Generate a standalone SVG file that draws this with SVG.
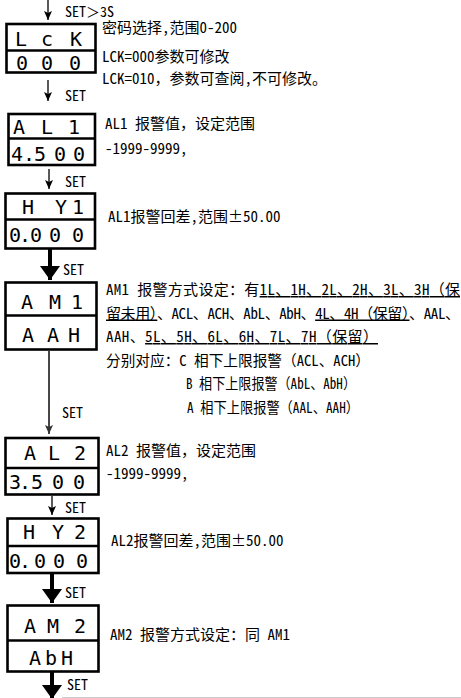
<svg xmlns="http://www.w3.org/2000/svg" width="461" height="698" viewBox="0 0 461 698">
<style>
.t{font-family:'Noto Sans Mono CJK SC','Noto Sans CJK SC',sans-serif;font-size:15px;fill:#000;}
.s{font-family:'Noto Sans Mono CJK SC','Noto Sans CJK SC',sans-serif;font-size:14px;fill:#000;}
.seg{font-family:'DejaVu Sans Mono',monospace;font-size:20px;fill:#000;text-anchor:middle;}
.box{fill:none;stroke:#000;stroke-width:2.6;}
.div{stroke:#000;stroke-width:2.6;}
.thin{stroke:#000;stroke-width:1.3;fill:none;}
.thick{stroke:#000;stroke-width:4;fill:none;}
.u{text-decoration:underline;}
</style>
<defs>
<marker id="ah" markerUnits="userSpaceOnUse" markerWidth="10" markerHeight="10" refX="9" refY="4" orient="auto" overflow="visible">
<path d="M0,0 L9,4 L0,8 L2,4 z" fill="#000"/>
</marker>
<marker id="ahg" markerUnits="userSpaceOnUse" markerWidth="10" markerHeight="10" refX="9" refY="4" orient="auto" overflow="visible">
<path d="M0,0 L9,4 L0,8 L2,4 z" fill="#333"/>
</marker>
<marker id="th" markerUnits="userSpaceOnUse" markerWidth="16" markerHeight="22" refX="14" refY="10" orient="auto" overflow="visible">
<path d="M0,0 L14,10 L0,20 z" fill="#000"/>
</marker>
</defs>
<rect width="461" height="698" fill="#fff"/>

<g id="connectors">
<line class="thin" x1="48" y1="0" x2="48" y2="20" marker-end="url(#ah)"/>
<text class="s" x="65" y="17">SET＞3S</text>
<line class="thin" x1="48" y1="80" x2="48" y2="101" marker-end="url(#ah)"/>
<text class="s" x="65" y="101">SET</text>
<line class="thin" x1="49" y1="169" x2="49" y2="189" marker-end="url(#ah)"/>
<text class="s" x="65" y="187">SET</text>
<line class="thick" x1="50" y1="249" x2="50" y2="280" marker-end="url(#th)"/>
<text class="s" x="63" y="275">SET</text>
<line x1="49" y1="351" x2="49" y2="434" stroke="#333" stroke-width="1.8" marker-end="url(#ahg)"/>
<text class="s" x="62" y="418">SET</text>
<line class="thin" x1="52" y1="496" x2="52" y2="515" marker-end="url(#ah)"/>
<text class="s" x="65" y="513">SET</text>
<line class="thick" x1="52" y1="574" x2="52" y2="603" marker-end="url(#th)"/>
<text class="s" x="65" y="598">SET</text>
<line class="thick" x1="52" y1="672" x2="52" y2="699" marker-end="url(#th)"/>
<text class="s" x="67" y="690">SET</text>
<line x1="62" y1="697.5" x2="461" y2="697.5" stroke="#cccccc" stroke-width="1"/>
</g>

<g id="node-lck">
<rect class="box" x="6.5" y="24" width="89" height="48.5"/>
<line class="div" x1="6.5" y1="50.5" x2="95.5" y2="50.5"/>
<text class="seg" x="21 47 76" y="46">LcK</text>
<text class="seg" x="22 47 75" y="70">000</text>
<text class="t" x="102" y="33">密码选择,范围0-200</text>
<text class="t" x="102" y="61.5">LCK=000参数可修改</text>
<text class="t" x="102" y="83.5">LCK=010，参数可查阅,不可修改。</text>
</g>

<g id="node-al1">
<rect class="box" x="8.5" y="114" width="86.5" height="51"/>
<line class="div" x1="8.5" y1="138.5" x2="95" y2="138.5"/>
<text class="seg" x="19 47 74" y="134">AL1</text>
<text class="seg" x="17 29 40 60 79" y="161">4.500</text>
<text class="t" x="105" y="129">AL1 报警值，设定范围</text>
<text class="t" x="105" y="154">-1999-9999,</text>
</g>

<g id="node-hy1">
<rect class="box" x="5.5" y="193.5" width="89.5" height="55"/>
<line class="div" x1="5.5" y1="219.5" x2="95" y2="219.5"/>
<text class="seg" x="28 61 78" y="214">HY1</text>
<text class="seg" x="15 25 36 55 78" y="242">0.000</text>
<text class="t" x="108" y="222">AL1报警回差,范围±50.00</text>
</g>

<g id="node-am1">
<rect class="box" x="5.5" y="282.5" width="91" height="67"/>
<line class="div" x1="5.5" y1="315.5" x2="96.5" y2="315.5"/>
<text class="seg" x="27 55 77" y="309">AM1</text>
<text class="seg" x="28 53 74" y="342">AAH</text>
<text class="t" x="106" y="295" textLength="354" lengthAdjust="spacing">AM1 报警方式设定：有<tspan class="u">1L、1H、2L、2H、3L、3H（保</tspan></text>
<text class="t" x="106" y="318.5" textLength="354" lengthAdjust="spacing"><tspan class="u">留未用）</tspan>、ACL、ACH、AbL、AbH、<tspan class="u">4L、4H（保留）</tspan>、AAL、</text>
<text class="t" x="106" y="342" textLength="272" lengthAdjust="spacing">AAH、<tspan class="u">5L、5H、6L、6H、7L、7H（保留）</tspan></text>
<text class="t" x="106" y="365.5" textLength="264" lengthAdjust="spacingAndGlyphs">分别对应：C 相下上限报警（ACL、ACH）</text>
<text class="t" x="186" y="389" textLength="170" lengthAdjust="spacingAndGlyphs">B 相下上限报警（AbL、AbH）</text>
<text class="t" x="187" y="412.5" textLength="172" lengthAdjust="spacingAndGlyphs">A 相下上限报警（AAL、AAH）</text>
</g>

<g id="node-al2">
<rect class="box" x="5.5" y="438" width="93" height="56.5"/>
<line class="div" x1="5.5" y1="468" x2="98.5" y2="468"/>
<text class="seg" x="30 54 80" y="460">AL2</text>
<text class="seg" x="15 25 37 58 79" y="489">3.500</text>
<text class="t" x="106" y="456">AL2 报警值，设定范围</text>
<text class="t" x="106" y="479">-1999-9999,</text>
</g>

<g id="node-hy2">
<rect class="box" x="7.5" y="518.5" width="91" height="54.5"/>
<line class="div" x1="7.5" y1="546" x2="98.5" y2="546"/>
<text class="seg" x="29 58 80" y="539">HY2</text>
<text class="seg" x="15 25 40 59 82" y="568">0.000</text>
<text class="t" x="111" y="546">AL2报警回差,范围±50.00</text>
</g>

<g id="node-am2">
<rect class="box" x="7.5" y="605.5" width="91" height="66"/>
<line class="div" x1="7.5" y1="640.5" x2="98.5" y2="640.5"/>
<text class="seg" x="30 53 80" y="633">AM2</text>
<text class="seg" x="35 51 67" y="665">AbH</text>
<text class="t" x="110" y="640">AM2 报警方式设定：同 AM1</text>
</g>
</svg>
